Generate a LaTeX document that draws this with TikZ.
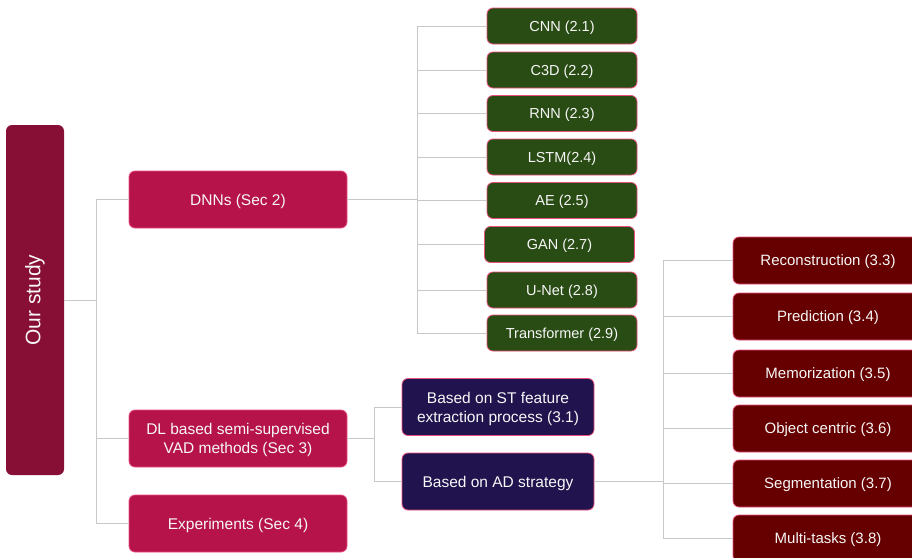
\documentclass[tikz,border=0pt]{standalone}
\usepackage{fontspec}
\setmainfont{Liberation Sans}
\usepackage{tikz}
\usetikzlibrary{positioning,calc}
\usepackage{xcolor}
\definecolor{studyred}{HTML}{870E34}
\definecolor{secred}{HTML}{B5134A}
\definecolor{darkpurple}{HTML}{21134D}
\definecolor{darkgreen}{HTML}{294B14}
\definecolor{maroon}{HTML}{660000}
\definecolor{edgepink}{HTML}{E8507F}
\definecolor{linkgray}{HTML}{C8C8C8}

\begin{document}
\begin{tikzpicture}[x=1pt, y=-1pt,
    box/.style={rounded corners=6pt, draw=edgepink, line width=0.8pt,
        text=white!94!gray, align=center, inner sep=2pt, text depth=0pt,
        font=\fontsize{15.5}{19}\selectfont},
    secbox/.style={box, fill=secred, minimum width=218, minimum height=57},
    stratbox/.style={box, fill=darkpurple, minimum width=192, minimum height=57},
    dnnbox/.style={box, fill=darkgreen, minimum width=150, minimum height=36,
        font=\fontsize{14.5}{18}\selectfont},
    adbox/.style={box, fill=maroon, minimum width=190, minimum height=47,
        font=\fontsize{15}{18}\selectfont},
    link/.style={linkgray, line width=1pt}]
    \useasboundingbox (0,0) rectangle (912,557);

    % --- Root ---
    \node[box, draw=none, fill=studyred, minimum width=58, minimum height=350] (study) at (35,300) {};
    \node[rotate=90, text=white!94!gray, font=\fontsize{21}{25}\selectfont] (studytext) at (study.center) {Our study};

    % --- Sections ---
    \node[secbox] (dnn) at (238,199.5) {DNNs (Sec 2)};
    \node[secbox] (dl) at (238,438.5) {DL based semi-supervised\\VAD methods (Sec 3)};
    \node[secbox] (exp) at (238,523.5) {Experiments (Sec 4)};

    % --- DNN types ---
    \node[dnnbox] (cnn) at (562,26) {CNN (2.1)};
    \node[dnnbox] (c3d) at (562,70) {C3D (2.2)};
    \node[dnnbox] (rnn) at (562,113.5) {RNN (2.3)};
    \node[dnnbox] (lstm) at (562,157) {LSTM(2.4)};
    \node[dnnbox] (ae) at (562,200.5) {AE (2.5)};
    \node[dnnbox] (gan) at (559.5,244.5) {GAN (2.7)};
    \node[dnnbox] (unet) at (562,290) {U-Net (2.8)};
    \node[dnnbox] (tfm) at (562,333) {Transformer (2.9)};

    % --- Semi-supervised branches ---
    \node[stratbox] (st) at (498,407) {Based on ST feature\\extraction process (3.1)};
    \node[stratbox] (ad) at (498,481.5) {Based on AD strategy};

    % --- AD strategies ---
    \node[adbox] (rec) at (828,260.5) {Reconstruction (3.3)};
    \node[adbox] (pred) at (828,316.5) {Prediction (3.4)};
    \node[adbox] (mem) at (828,373.5) {Memorization (3.5)};
    \node[adbox] (obj) at (828,428.5) {Object centric (3.6)};
    \node[adbox] (seg) at (828,483.5) {Segmentation (3.7)};
    \node[adbox] (mt) at (828,538.5) {Multi-tasks (3.8)};

    % Connectors
    \draw[link] (study.east) -- ++(32,0) coordinate (j0);
    \draw[link] (dnn.west) -| (j0) |- (exp.west);
    \draw[link] (dl.west) -- (dl.west -| j0);

    \draw[link] (dnn.east) -- ++(70,0) coordinate (j1);
    \draw[link] (cnn.west) -| (j1) |- (tfm.west);
    \foreach \n in {c3d,rnn,lstm,ae,gan,unet}
        \draw[link] (\n.west) -- (\n.west -| j1);

    \draw[link] (dl.east) -- ++(27,0) coordinate (j2);
    \draw[link] (st.west) -| (j2) |- (ad.west);

    \draw[link] (ad.east) -- ++(69,0) coordinate (j3);
    \draw[link] (rec.west) -| (j3) |- (mt.west);
    \foreach \n in {pred,mem,obj,seg}
        \draw[link] (\n.west) -- (\n.west -| j3);
\end{tikzpicture}
\end{document}
